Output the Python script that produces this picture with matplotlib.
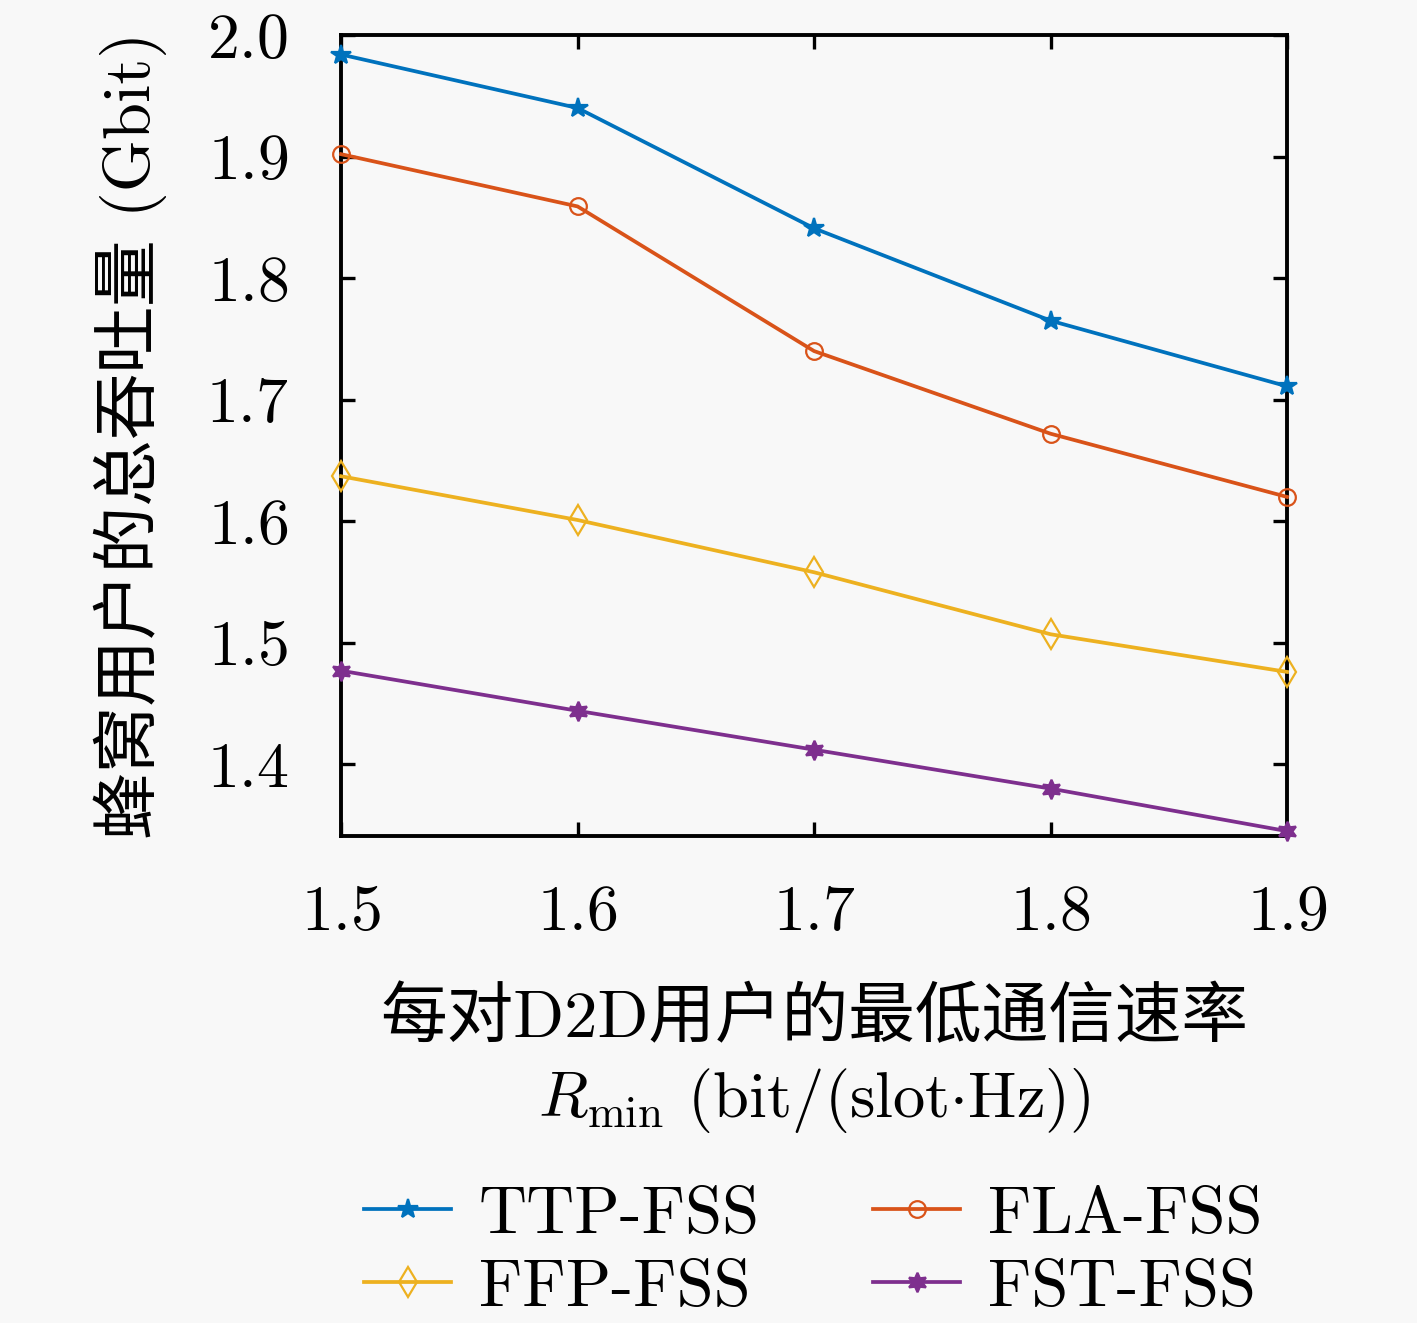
"""Cellular throughput vs. minimum D2D rate, four schemes."""

import matplotlib

matplotlib.use("Agg")
import matplotlib.pyplot as plt  # noqa: E402

# data
rmin = [1.5, 1.6, 1.7, 1.8, 1.9]
ttp_fss = [1.984, 1.940, 1.841, 1.765, 1.711]
fla_fss = [1.902, 1.859, 1.740, 1.672, 1.620]
ffp_fss = [1.637, 1.601, 1.558, 1.507, 1.476]
fst_fss = [1.477, 1.444, 1.412, 1.380, 1.345]
series_names = ["TTP-FSS", "FLA-FSS", "FFP-FSS", "FST-FSS"]
xticks = [1.5, 1.6, 1.7, 1.8, 1.9]
yticks = [1.4, 1.5, 1.6, 1.7, 1.8, 1.9, 2.0]

FAM = ["cmr10", "Noto Sans CJK SC", "DejaVu Sans"]
plt.rcParams["font.family"] = FAM
plt.rcParams["mathtext.fontset"] = "cm"
plt.rcParams["axes.formatter.use_mathtext"] = True
FS_TICK = 46
FS = 48
BG = "#f8f8f8"

fig = plt.figure(figsize=(14.17, 13.23), dpi=100, facecolor=BG)
ax = fig.add_axes([0.2407, 0.3681, 0.6676, 0.6054], facecolor=BG)

styles = [
    dict(color="#0072BD", marker="*", ms=15, mfc="#0072BD"),
    dict(color="#D95319", marker="o", ms=12, mfc="none"),
    dict(color="#EDB120", marker="d", ms=15, mfc="none"),
    dict(color="#7E2F8E", marker=(6, 1, 0), ms=14, mfc="#7E2F8E"),
]
lines = []
for ys, name, st in zip([ttp_fss, fla_fss, ffp_fss, fst_fss], series_names, styles):
    ln, = ax.plot(rmin, ys, lw=2.7, mew=1.6, label=name, clip_on=False,
                  zorder=3, **st)
    lines.append(ln)

ax.set_xlim(1.5, 1.9)
ax.set_ylim(1.341, 2.0)
ax.set_xticks(xticks)
ax.set_yticks(yticks)
ax.tick_params(direction="in", top=True, right=True, length=10, width=2.4,
               labelsize=FS_TICK)
ax.tick_params(axis="x", pad=35)
ax.tick_params(axis="y", pad=38)
for sp in ax.spines.values():
    sp.set_linewidth(2.8)

ax.set_ylabel("蜂窝用户的总吞吐量 (Gbit)", fontsize=FS, labelpad=28)

ax.text(0.5, -0.2285, "每对D2D用户的最低通信速率", transform=ax.transAxes,
        ha="center", va="center", fontsize=FS)
ax.text(0.5, -0.33, r"$R_{\min}$ (bit/(slot$\cdot$Hz))", transform=ax.transAxes,
        ha="center", va="center", fontsize=46.5)

# legend fills row by row: TTP | FLA on top, FFP | FST below
order = [0, 2, 1, 3]
fig.legend([lines[i] for i in order], [series_names[i] for i in order],
           loc="center", bbox_to_anchor=(0.574, 0.0535), ncol=2, frameon=False,
           fontsize=FS, handlelength=1.3, handletextpad=0.42,
           columnspacing=1.7, labelspacing=0.2, borderpad=0.2)

fig.savefig("out.png", dpi=100, facecolor=BG)
